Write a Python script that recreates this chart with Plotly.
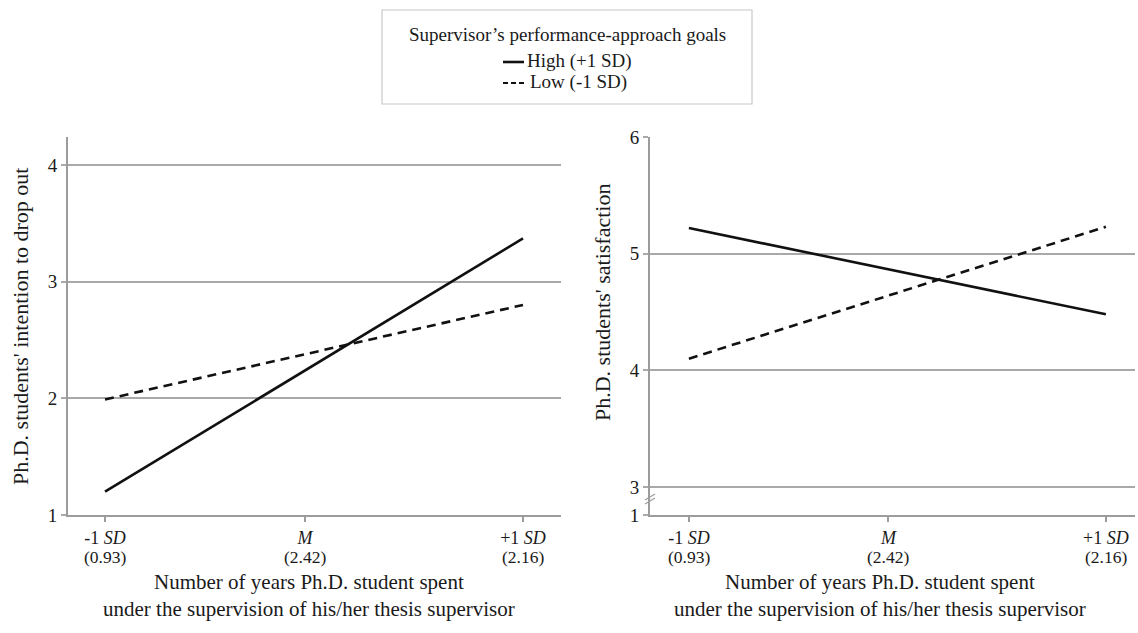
import plotly.graph_objects as go

# ---- data ----
x_tick_labels = ["-1 <i>SD</i>", "<i>M</i>", "+1 <i>SD</i>"]
x_tick_values = ["(0.93)", "(2.42)", "(2.16)"]
x_tick_pos = [0, 1, 2.09]
line_x = [0, 2.09]

dropout_high = [1.20, 3.37]
dropout_low = [1.99, 2.80]
satisfaction_high = [5.22, 4.48]
satisfaction_low = [4.10, 5.23]

series_names = ["High (+1 SD)", "Low (-1 SD)"]
legend_title = "Supervisor\u2019s performance-approach goals"
x_title = "Number of years Ph.D. student spent<br>under the supervision of his/her thesis supervisor"
y_title_left = "Ph.D. students' intention to drop out"
y_title_right = "Ph.D. students' satisfaction"

left_yticks = [1, 2, 3, 4]
right_yticks = [2.76, 3, 4, 5, 6]
right_yticktext = ["1", "3", "4", "5", "6"]

# ---- layout helpers ----
W, H = 1138, 633
def px(x):
    return x / W
def py(y):
    return 1 - y / H

FONT = "Liberation Serif, Times New Roman, serif"
TXT = "#1a1a1a"
AXC = "#9c9c9c"
GRC = "#a9a9a9"

fig = go.Figure()
line_solid = dict(color="#111111", width=2.6)
line_dash = dict(color="#111111", width=2.6, dash="9px,6px")

fig.add_trace(go.Scatter(x=line_x, y=dropout_high, mode="lines", line=line_solid,
                         name=series_names[0], xaxis="x", yaxis="y", showlegend=False))
fig.add_trace(go.Scatter(x=line_x, y=dropout_low, mode="lines", line=line_dash,
                         name=series_names[1], xaxis="x", yaxis="y", showlegend=False))
fig.add_trace(go.Scatter(x=line_x, y=satisfaction_high, mode="lines", line=line_solid,
                         name=series_names[0], xaxis="x2", yaxis="y2", showlegend=False))
fig.add_trace(go.Scatter(x=line_x, y=satisfaction_low, mode="lines", line=line_dash,
                         name=series_names[1], xaxis="x2", yaxis="y2", showlegend=False))

ydom = [py(515), py(137)]
xcommon = dict(tickmode="array", tickvals=x_tick_pos, ticktext=x_tick_labels,
               showgrid=False, zeroline=False, showline=True, linecolor=AXC, linewidth=2,
               ticks="outside", ticklen=5, tickcolor=AXC, tickwidth=1.5, automargin=False,
               tickfont=dict(family=FONT, size=18, color=TXT), fixedrange=True)
ycommon = dict(showgrid=True, gridcolor=GRC, gridwidth=1.5, zeroline=False,
               showline=True, linecolor=AXC, linewidth=2, automargin=False,
               ticks="outside", ticklen=5, tickcolor=GRC, tickwidth=1.5,
               tickfont=dict(family=FONT, size=19, color=TXT), fixedrange=True)

fig.update_layout(
    width=W, height=H, margin=dict(l=0, r=0, t=0, b=0, autoexpand=False),
    paper_bgcolor="white", plot_bgcolor="white", showlegend=False,
    xaxis=dict(domain=[px(68), px(561)], range=[-0.185, 2.28], anchor="y", **xcommon),
    yaxis=dict(domain=ydom, range=[1, 4.239], anchor="x",
               tickmode="array", tickvals=left_yticks, **ycommon),
    xaxis2=dict(domain=[px(650), px(1135)], range=[-0.195, 2.236], anchor="y2", **xcommon),
    yaxis2=dict(domain=ydom, range=[right_yticks[0], 6.0], anchor="x2",
                tickmode="array", tickvals=right_yticks, ticktext=right_yticktext, **ycommon),
)

ann = []
# second line of x tick labels (values in parentheses)
for xref in ("x", "x2"):
    for xv, txt in zip(x_tick_pos, x_tick_values):
        ann.append(dict(x=xv, y=py(557), xref=xref, yref="paper", text=txt,
                        showarrow=False, font=dict(family=FONT, size=17.5, color=TXT),
                        xanchor="center", yanchor="middle"))
# axis titles
for cx in (309, 880):
    ann.append(dict(x=px(cx), y=py(595), xref="paper", yref="paper", text=x_title,
                    showarrow=False, font=dict(family=FONT, size=21, color=TXT),
                    xanchor="center", yanchor="middle", align="center"))
ann.append(dict(x=px(20), y=py(327), xref="paper", yref="paper", text=y_title_left,
                showarrow=False, textangle=-90, font=dict(family=FONT, size=22, color=TXT),
                xanchor="center", yanchor="middle"))
ann.append(dict(x=px(603), y=py(303), xref="paper", yref="paper", text=y_title_right,
                showarrow=False, textangle=-90, font=dict(family=FONT, size=22, color=TXT),
                xanchor="center", yanchor="middle"))

# legend (drawn)
ann.append(dict(x=px(567), y=py(35), xref="paper", yref="paper", text=legend_title,
                showarrow=False, font=dict(family=FONT, size=19, color=TXT),
                xanchor="center", yanchor="middle"))
ann.append(dict(x=px(525), y=py(61), xref="paper", yref="paper", text=series_names[0],
                showarrow=False, font=dict(family=FONT, size=19, color=TXT),
                xanchor="left", yanchor="middle"))
ann.append(dict(x=px(528), y=py(82), xref="paper", yref="paper", text=series_names[1],
                showarrow=False, font=dict(family=FONT, size=19, color=TXT),
                xanchor="left", yanchor="middle"))
fig.update_layout(annotations=ann)

shapes = [
    dict(type="rect", xref="paper", yref="paper", x0=px(382), x1=px(752), y0=py(104), y1=py(10),
         line=dict(color="#c8c8c8", width=1.2), fillcolor="rgba(0,0,0,0)"),
    dict(type="line", xref="paper", yref="paper", x0=px(503), x1=px(524), y0=py(62), y1=py(62),
         line=dict(color="#111111", width=2.6)),
    dict(type="line", xref="paper", yref="paper", x0=px(503), x1=px(526), y0=py(83), y1=py(83),
         line=dict(color="#111111", width=2.2, dash="5px,3px")),
    # axis break marks on right y-axis
    dict(type="line", xref="paper", yref="paper", x0=px(645), x1=px(655), y0=py(500), y1=py(494),
         line=dict(color=AXC, width=1.2)),
    dict(type="line", xref="paper", yref="paper", x0=px(645), x1=px(655), y0=py(504), y1=py(498),
         line=dict(color=AXC, width=1.2)),
]
fig.update_layout(shapes=shapes)

fig.write_html("out.html", config={"displayModeBar": False},
               post_script="document.body.style.margin='0';document.body.style.overflow='hidden';")
